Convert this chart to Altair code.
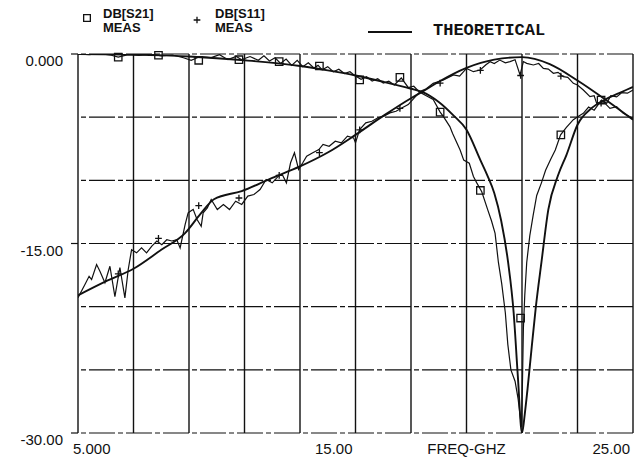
import altair as alt
import pandas as pd

# ---------------- data ----------------
FREQ_GRID = [5, 7, 9, 11, 13, 15, 17, 19, 21, 23, 25]
DB_GRID = [0, -5, -10, -15, -20, -25, -30]

X_LABEL_VALUES = [5, 15, 19, 25]
X_LABEL_TEXT = ["5.000", "15.00", "FREQ-GHZ", "25.00"]
X_LABEL_ALIGN = ["left", "right", "center", "right"]
Y_LABEL_VALUES = [0, -15, -30]
Y_LABEL_TEXT = ["0.000", "-15.00", "-30.00"]

S21_TH_F = [5.0, 7.0, 9.0, 11.0, 13.0, 14.0, 15.0, 16.0, 17.0, 17.4, 18.0, 18.5, 19.0, 19.5,
            19.75, 20.0, 20.25, 20.5, 20.7, 20.85, 21.0, 21.1, 21.2, 21.35, 21.5, 21.7,
            21.95, 22.3, 22.6, 23.0, 23.5, 24.0, 24.5, 25.0]
S21_TH_DB = [0.0, -0.05, -0.2, -0.5, -0.95, -1.3, -1.7, -2.2, -2.75, -3.0, -3.8, -4.8, -6.0, -8.4,
             -9.6, -11.0, -13.2, -16.5, -20.5, -25.5, -30.0, -28.5, -26.5, -23.2, -20.0, -16.5,
             -12.3, -9.6, -8.0, -5.6, -4.3, -3.6, -3.1, -2.6]

S11_TH_F = [5.0, 6.0, 7.0, 8.0, 8.85, 9.4, 9.9, 10.9, 12.0, 13.0, 14.0, 15.0, 16.0, 17.0, 17.4,
            18.0, 19.0, 20.0, 21.0, 22.0, 23.0, 24.0, 25.0]
S11_TH_DB = [-19.1, -18.0, -17.0, -15.5, -14.2, -12.7, -11.5, -10.85, -9.8, -8.9, -7.8, -6.4, -4.9,
             -3.5, -3.0, -2.2, -1.1, -0.45, -0.25, -0.8, -2.1, -3.6, -5.2]

S21_MEAS_F = [5.0, 5.4, 5.8, 6.2, 6.45, 6.8, 7.2, 7.6, 8.0, 8.4, 8.8, 9.08, 9.4, 9.8, 10.1, 10.4,
              10.7, 10.9, 11.2, 11.5, 11.7, 11.9, 12.1, 12.3, 12.5, 12.7, 12.9, 13.1, 13.3, 13.5,
              13.65, 13.8, 14.0, 14.2, 14.4, 14.6, 14.8, 15.0, 15.2, 15.4, 15.6, 15.8, 16.0, 16.2,
              16.4, 16.65, 16.9, 17.1, 17.3, 17.55, 17.8, 18.05, 18.17, 18.4, 18.5, 18.77, 18.9,
              19.1, 19.25, 19.37, 19.55, 19.76, 19.9, 20.03, 20.15, 20.27, 20.4, 20.49, 20.6,
              20.75, 20.86, 20.98, 21.02, 21.05, 21.1, 21.17, 21.28, 21.4, 21.53, 21.7, 21.85,
              22.03, 22.2, 22.39, 22.6, 22.85, 23.05, 23.21, 23.4, 23.6, 23.87, 24.05, 24.2,
              24.41, 24.6, 24.8, 25.0]
S21_MEAS_DB = [0.0, -0.05, 0.02, -0.1, -0.25, -0.05, -0.12, 0.0, -0.15, -0.08, -0.3, -0.5, -0.2,
               -0.28, -0.05, -0.45, -0.2, -0.45, -0.2, -0.5, -0.15, -0.55, -0.3, -0.75, -0.4, -0.9,
               -0.5, -1.0, -0.7, -1.1, -0.9, -1.25, -1.0, -1.4, -1.2, -1.55, -1.4, -1.75, -2.0,
               -1.8, -2.15, -1.95, -2.3, -2.15, -2.45, -1.9, -2.65, -2.55, -3.0, -3.3, -3.6, -4.6,
               -4.96, -5.75, -6.3, -7.6, -8.4, -8.65, -9.7, -10.2, -10.9, -12.3, -13.2, -14.2,
               -16.5, -18.2, -20.5, -23.0, -25.0, -25.9, -27.3, -29.5, -25.6, -21.7, -19.1, -16.5,
               -14.4, -12.8, -11.2, -10.2, -9.2, -8.35, -7.6, -6.4, -5.8, -5.2, -4.9, -4.7, -4.2,
               -4.45, -3.64, -3.9, -3.3, -3.4, -3.05, -3.1, -2.85]

S11_MEAS_F = [5.0, 5.07, 5.25, 5.4, 5.49, 5.67, 5.79, 5.97, 6.15, 6.33, 6.51, 6.69, 6.81, 6.93,
              7.11, 7.29, 7.47, 7.66, 7.84, 8.02, 8.2, 8.38, 8.56, 8.68, 8.86, 8.97, 9.05, 9.15,
              9.29, 9.44, 9.51, 9.66, 9.8, 10.02, 10.24, 10.46, 10.68, 10.9, 11.12, 11.34, 11.56,
              11.78, 12.0, 12.22, 12.36, 12.51, 12.66, 12.8, 12.95, 13.1, 13.24, 13.46, 13.68,
              13.83, 14.05, 14.27, 14.49, 14.71, 14.93, 15.0, 15.15, 15.37, 15.59, 15.81, 16.02,
              16.24, 16.46, 16.68, 16.9, 17.12, 17.34, 17.55, 17.8, 18.17, 18.53, 18.75, 19.0,
              19.25, 19.49, 19.7, 19.85, 20.0, 20.2, 20.4, 20.57, 20.75, 20.93, 21.05, 21.17,
              21.41, 21.6, 21.77, 21.95, 22.13, 22.3, 22.49, 22.65, 22.85, 23.0, 23.21, 23.45,
              23.6, 23.69, 23.93, 24.17, 24.41, 24.65, 24.89, 25.0]
S11_MEAS_DB = [-19.3, -19.0, -18.25, -17.6, -17.85, -16.67, -17.2, -18.1, -16.8, -19.2, -16.9,
               -19.3, -17.06, -15.5, -15.74, -15.35, -15.74, -15.2, -14.8, -15.1, -14.7, -14.8,
               -14.7, -15.35, -13.5, -12.57, -12.44, -12.3, -13.1, -13.63, -12.57, -12.18, -11.52,
               -12.31, -11.91, -12.31, -11.65, -11.91, -11.25, -11.12, -10.73, -9.93, -10.2,
               -9.67, -9.54, -10.2, -8.61, -7.82, -9.14, -8.61, -8.09, -7.82, -7.56, -7.16, -7.3,
               -6.9, -7.03, -6.5, -6.64, -7.03, -5.98, -5.45, -5.32, -5.05, -4.92, -4.66, -4.53,
               -4.26, -4.0, -3.47, -2.94, -2.75, -2.32, -2.06, -1.66, -1.75, -1.14, -1.4, -1.27,
               -0.85, -0.61, -0.75, -0.48, -0.7, -0.6, -0.45, -1.66, -0.6, -0.74, -0.87, -0.75,
               -1.14, -1.2, -1.53, -1.45, -1.79, -1.85, -2.32, -2.45, -2.85, -3.38, -3.3, -3.91,
               -3.77, -4.3, -4.17, -4.7, -4.96, -5.1]

MARK_F = [6.45, 7.9, 9.35, 10.8, 12.25, 13.7, 15.15, 16.6, 18.05, 19.5, 20.95, 22.4, 23.85]
S21_MARK_DB = [-0.25, -0.1, -0.5, -0.45, -0.6, -0.95, -2.05, -1.85, -4.6, -10.8, -20.9, -6.4, -3.65]
S11_MARK_DB = [-17.4, -14.6, -12.0, -11.4, -9.6, -7.8, -6.0, -4.3, -2.3, -1.3, -1.7, -1.75, -3.9]

LEGEND_TEXT = ["DB[S21]", "MEAS", "DB[S11]", "MEAS"]
THEORY_TEXT = "THEORETICAL"

# ---------------- chart ----------------
W, H = 555, 379
INK = "#111111"
SANS = "Liberation Sans, Arial, sans-serif"

xs = alt.Scale(domain=[5, 25], nice=False, zero=False)
ys = alt.Scale(domain=[-30, 0], nice=False, zero=False)
X = lambda f: alt.X(f, type="quantitative", scale=xs, axis=None)
Y = lambda f: alt.Y(f, type="quantitative", scale=ys, axis=None)

vgrid = alt.Chart(pd.DataFrame({"f": FREQ_GRID})).mark_rule(
    color=INK, strokeWidth=1.4).encode(x=X("f"))
hgrid = alt.Chart(pd.DataFrame({"d": DB_GRID})).mark_rule(
    color=INK, strokeWidth=1.2, strokeDash=[26, 3, 5, 3]).encode(y=Y("d"))
yticks = alt.Chart(pd.DataFrame({"d": Y_LABEL_VALUES})).mark_rule(
    color=INK, strokeWidth=1.2).encode(y=Y("d"), x=alt.value(-7), x2=alt.value(0))

def line(fs, ds, width, interp):
    df = pd.DataFrame({"f": fs, "d": ds, "o": range(len(fs))})
    return alt.Chart(df).mark_line(color=INK, strokeWidth=width, clip=True,
                                   interpolate=interp).encode(
        x=X("f"), y=Y("d"), order="o:Q")

th21 = line(S21_TH_F, S21_TH_DB, 1.9, "monotone")
th11 = line(S11_TH_F, S11_TH_DB, 1.9, "monotone")
me21 = line(S21_MEAS_F, S21_MEAS_DB, 1.2, "linear")
me11 = line(S11_MEAS_F, S11_MEAS_DB, 1.2, "linear")

PLUS = "M-1,0L1,0M0,-1L0,1"
sq = alt.Chart(pd.DataFrame({"f": MARK_F, "d": S21_MARK_DB})).mark_point(
    shape="square", filled=False, color=INK, size=55, strokeWidth=1.3, opacity=1).encode(
    x=X("f"), y=Y("d"))
pl = alt.Chart(pd.DataFrame({"f": MARK_F, "d": S11_MARK_DB})).mark_point(
    shape=PLUS, filled=False, color=INK, size=45, strokeWidth=1.3, opacity=1).encode(
    x=X("f"), y=Y("d"))

ylab = alt.Chart(pd.DataFrame({"d": Y_LABEL_VALUES, "t": Y_LABEL_TEXT})).mark_text(
    align="right", baseline="middle", dy=7, font=SANS, fontSize=15, color=INK).encode(
    y=Y("d"), x=alt.value(-15), text="t:N")

xl = pd.DataFrame({"f": X_LABEL_VALUES, "t": X_LABEL_TEXT, "a": X_LABEL_ALIGN})
xlabs = []
for a, dx in [("left", -5), ("right", -3), ("center", 0)]:
    sub = xl[xl["a"] == a]
    xlabs.append(alt.Chart(sub).mark_text(
        align=a, baseline="middle", dx=dx, font=SANS, fontSize=15, color=INK).encode(
        x=X("f"), y=alt.value(H + 16), text="t:N"))

# legend
leg_df = pd.DataFrame({"t": LEGEND_TEXT, "px": [25, 25, 137, 137], "py": [-40, -26, -40, -26]})
leg_text = alt.Chart(leg_df).mark_text(
    align="left", baseline="middle", font=SANS, fontSize=13, fontWeight="bold", color=INK).encode(
    x=alt.X("px:Q", scale=None), y=alt.Y("py:Q", scale=None), text="t:N")
leg_sq = alt.Chart(pd.DataFrame({"k": [0]})).mark_point(
    shape="square", filled=False, color=INK, size=45, strokeWidth=1.3, opacity=1).encode(
    x=alt.value(9), y=alt.value(-36))
leg_pl = alt.Chart(pd.DataFrame({"k": [0]})).mark_point(
    shape=PLUS, filled=False, color=INK, size=45, strokeWidth=1.3, opacity=1).encode(
    x=alt.value(119), y=alt.value(-34))
leg_line = alt.Chart(pd.DataFrame({"k": [0]})).mark_rule(
    color=INK, strokeWidth=2).encode(x=alt.value(290), x2=alt.value(334), y=alt.value(-22))
leg_th = alt.Chart(pd.DataFrame({"t": [THEORY_TEXT]})).mark_text(
    align="left", baseline="middle", font="Liberation Mono, DejaVu Sans Mono, monospace",
    fontSize=17, fontWeight="bold", color=INK).encode(
    x=alt.value(355), y=alt.value(-24), text="t:N")

chart = alt.layer(
    vgrid, hgrid, yticks, th21, th11, me21, me11, sq, pl, ylab, *xlabs,
    leg_text, leg_sq, leg_pl, leg_line, leg_th
).properties(
    width=W, height=H,
    autosize=alt.AutoSizeParams(type="none"),
    padding={"left": 78, "top": 54, "right": 4, "bottom": 33},
    background="white",
).configure_view(stroke=None)

chart.save("out.html", embed_options={"renderer": "svg", "actions": False})
